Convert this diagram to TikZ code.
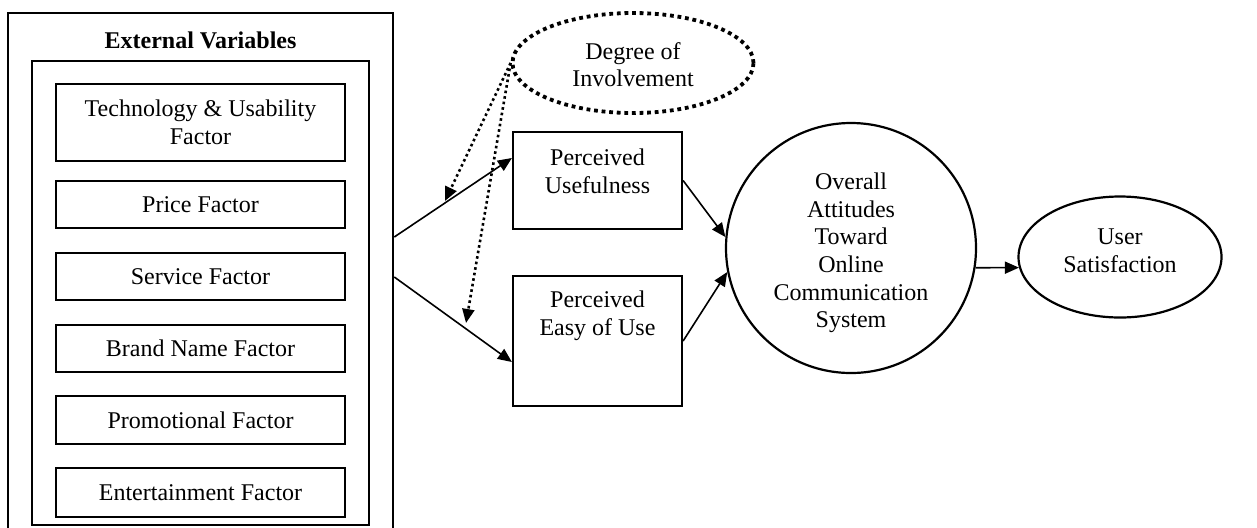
\documentclass[tikz,border=0pt]{standalone}
\usepackage{fontspec}
\setmainfont{Liberation Serif}
\usetikzlibrary{shapes.geometric,arrows.meta}
\begin{document}
\begin{tikzpicture}[x=0.5pt,y=-0.5pt,
    tamTxt/.style={font=\fontsize{12}{13.8}\selectfont,align=center,inner sep=0pt},
    tamFrame/.style={draw,line width=1.3pt,rectangle,inner sep=0pt},
    tamFactor/.style={tamTxt,draw,line width=0.9pt,rectangle,minimum width=144.5pt},
    tamBox/.style={draw,line width=1.1pt,rectangle,minimum width=84.5pt},
    tamArr/.style={-{Triangle[length=7pt,width=6pt]},line width=0.8pt},
    tamDot/.style={-{Triangle[length=7pt,width=6pt]},line width=1.3pt,dash pattern=on 1.3pt off 1.5pt},
]
\useasboundingbox (0,0) rectangle (1257,527);
\clip (0,0) rectangle (1257,527);
% External variables
\node[tamFrame,minimum width=192.5pt,minimum height=264pt] (ext) at (200.5,277) {};
\node[tamFrame,minimum width=168.5pt,minimum height=232pt] (inner) at (200.5,293) {};
\node[tamTxt,font=\fontsize{12}{13.8}\selectfont\bfseries] (extlbl) at (200.5,40) {External Variables};
% Factors
\node[tamFactor,minimum height=38.5pt] (f1) at (200.5,122.5) {Technology \& Usability\\Factor};
\node[tamFactor,minimum height=23.5pt] (f2) at (200.5,204.5) {Price Factor};
\node[tamFactor,minimum height=23.5pt] (f3) at (200.5,276.5) {Service Factor};
\node[tamFactor,minimum height=23.5pt] (f4) at (200.5,348.5) {Brand Name Factor};
\node[tamFactor,minimum height=24pt] (f5) at (200.5,420) {Promotional Factor};
\node[tamFactor,minimum height=24.5pt] (f6) at (200.5,492.5) {Entertainment Factor};
% Moderator
\node[tamTxt,ellipse,draw,line width=1.9pt,dash pattern=on 1.9pt off 1.9pt,
      minimum width=120.5pt,minimum height=50pt] (deg) at (633,63) {};
\node[tamTxt] (degtxt) at ([yshift=-0.75pt]deg.center) {Degree of\\Involvement};
% Perceived constructs
\node[tamBox,minimum height=48.5pt] (pu) at (597.5,180.5) {};
\node[tamTxt] (putxt) at ([yshift=4.5pt]pu.center) {Perceived\\Usefulness};
\node[tamBox,minimum height=65pt] (peu) at (597.5,341) {};
\node[tamTxt] (peutxt) at ([yshift=12.5pt]peu.center) {Perceived\\Easy of Use};
% Attitude and satisfaction
\node[circle,draw,line width=1.1pt,minimum size=125pt] (att) at (851,248) {};
\node[tamTxt] (atttxt) at ([yshift=-2.5pt]att.center)
    {Overall\\Attitudes\\Toward\\Online\\Communication\\System};
\node[ellipse,draw,line width=1.1pt,minimum width=101.5pt,minimum height=60.5pt] (us) at (1120,257) {};
\node[tamTxt] (ustxt) at ([yshift=3.25pt]us.center) {User\\Satisfaction};
% Paths
\draw[tamArr] ([yshift=20pt]ext.east) -- ([yshift=11.25pt]pu.west);
\draw[tamArr] (ext.east) -- ([yshift=-10.5pt]peu.west);
\draw[tamArr] (pu.east) -- (att.175);
\draw[tamArr] (peu.east) -- (att.191);
\draw[tamArr] (att.-9) -- (us.186);
% Moderating effects
\coordinate (m1) at (445,201);
\coordinate (m2) at (466,323);
\draw[tamDot] (deg.west) -- (m1);
\draw[tamDot] (deg.west) -- (m2);
\end{tikzpicture}
\end{document}
